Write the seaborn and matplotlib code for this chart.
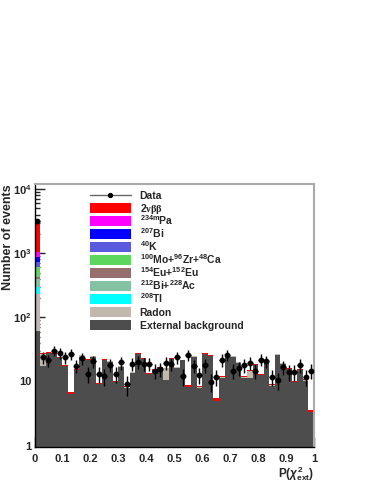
import numpy as np
import pandas as pd
import matplotlib
matplotlib.use("Agg")
import matplotlib.pyplot as plt
from matplotlib.lines import Line2D
from matplotlib.patches import Rectangle
from matplotlib.ticker import FixedLocator, FixedFormatter, LogLocator, NullFormatter, MultipleLocator
import seaborn as sns

# 50 bins of P(chi2_ext) between 0 and 1
n_bins = 50
x_range = (0, 1)

data_counts = [3230, 23.7, 21.5, 30, 27.6, 23.7, 26.7, 17.6, 22.9, 13.1,
               20.6, 13.1, 12, 18.2, 13.1, 19.8, 9, 18.7, 20.3, 18.7,
               18.7, 14.7, 15.6, 19.6, 19, 23.7, 12, 25.7, 17.6, 12.6,
               18, 9.9, 11.8, 21.7, 25.7, 14.7, 16.3, 17.8, 19.6, 14.7,
               21.8, 20.5, 11.8, 10.5, 16.6, 14, 14, 18, 11.9, 14.7]

ext_bkg = [61, 17.6, 27.5, 26.8, 23.0, 17.4, 6.3, 15.0, 24.0, 21.6,
           24.3, 9.0, 21.3, 20.3, 9.8, 17.0, 8.0, 13.6, 26.8, 22.2,
           12.9, 15.0, 16.0, 10.5, 22.3, 16.4, 21.3, 8.2, 24.3, 8.0,
           26.8, 25.0, 4.9, 11.5, 24.5, 24.3, 19.7, 11.5, 11.3, 18.0,
           12.5, 20.3, 8.6, 26.3, 19.0, 15.6, 9.8, 15.0, 10.3, 3.3]
radon = [174, 9.0, 0.3, 0.3, 0.2, 0.2, 0.1, 0.2, 1.5, 0.2,
         0.2, 0.1, 0.2, 0.2, 0.1, 0.2, 0.1, 0.2, 0.3, 0.2,
         0.1, 0.2, 0.2, 5.5, 0.2, 0.2, 0.2, 0.1, 0.2, 0.1,
         0.3, 0.2, 0.1, 0.1, 0.2, 0.2, 0.2, 0.1, 3.5, 0.2,
         0.1, 0.2, 0.1, 0.2, 0.2, 0.1, 0.1, 0.2, 0.1, 0.05]
tl208 = [65] + [0.0] * 49
bi212_ac228 = [100] + [0.0] * 49
eu154_eu152 = [30] + [0.0] * 49
mo100_zr96_ca48 = [178] + [0.0] * 49
k40 = [130] + [0.0] * 49
bi207 = [150] + [0.0] * 49
pa234m = [160] + [0.0] * 49
bb2nu = [2250, 0.9, 0.5, 0.5, 0.5, 0.4, 0.4, 0.4, 0.5, 0.5,
         0.5, 0.5, 0.5, 0.5, 0.4, 0.4, 0.4, 0.4, 0.5, 0.5,
         0.5, 0.4, 0.4, 0.4, 0.5, 0.4, 0.4, 0.4, 0.5, 0.4,
         0.5, 0.5, 0.5, 0.4, 0.5, 0.4, 0.4, 0.4, 0.4, 0.4,
         0.5, 0.5, 0.4, 0.5, 0.4, 0.4, 0.4, 0.4, 0.5, 0.3]

components = ["2nubb", "Pa234m", "Bi207", "K40", "MoZrCa", "Eu", "BiAc", "Tl208", "Radon", "Ext"]
comp_values = [bb2nu, pa234m, bi207, k40, mo100_zr96_ca48, eu154_eu152, bi212_ac228, tl208, radon, ext_bkg]
comp_labels = [r"2$\mathsf{\nu\beta\beta}$", r"$^{234m}$Pa", r"$^{207}$Bi", r"$^{40}$K",
               r"$^{100}$Mo+$^{96}$Zr+$^{48}$Ca", r"$^{154}$Eu+$^{152}$Eu",
               r"$^{212}$Bi+$^{228}$Ac", r"$^{208}$Tl", "Radon", "External background"]
comp_colors = ["#ff0000", "#ff00ff", "#0000ff", "#5a5ade", "#5cd65c",
               "#966e6e", "#85c2a3", "#00ffff", "#c2b8ad", "#4d4d4d"]

sns.set_style("ticks")
plt.rcParams["font.family"] = ["Liberation Sans", "DejaVu Sans"]
plt.rcParams["font.weight"] = "bold"
plt.rcParams["mathtext.fontset"] = "custom"
plt.rcParams["mathtext.rm"] = "Liberation Sans:bold"
plt.rcParams["mathtext.it"] = "Liberation Sans:bold:italic"
plt.rcParams["mathtext.bf"] = "Liberation Sans:bold"
plt.rcParams["mathtext.sf"] = "Liberation Serif"
plt.rcParams["mathtext.default"] = "rm"

bin_edges = np.linspace(x_range[0], x_range[1], n_bins + 1)
centers = (bin_edges[:-1] + bin_edges[1:]) / 2
rows = []
for name, vals in zip(components, comp_values):
    for c, v in zip(centers, vals):
        rows.append({"x": c, "w": v, "comp": name})
df = pd.DataFrame(rows)

W, H = 376, 487
fig = plt.figure(figsize=(W / 100, H / 100), dpi=100)
ax = fig.add_axes([34.5 / W, 1 - 447 / H, 279.5 / W, 263 / H])

sns.histplot(data=df, x="x", weights="w", hue="comp", hue_order=components,
             multiple="stack", bins=n_bins, binrange=x_range,
             palette=dict(zip(components, comp_colors)),
             element="bars", linewidth=0, alpha=1, legend=False, ax=ax)
ax.set_yscale("log")

data_counts = np.array(data_counts)
ax.errorbar(centers, data_counts, yerr=np.sqrt(data_counts), xerr=0.01,
            fmt="o", ms=3.2, color="black", elinewidth=1, capsize=0, zorder=5)

ax.set_xlim(0, 1)
ax.set_ylim(0.95, 12000)

ax.yaxis.set_major_locator(FixedLocator([1, 10, 100, 1000, 10000]))
ax.yaxis.set_major_formatter(FixedFormatter(["1", "10", r"10$^{2}$", r"10$^{3}$", r"10$^{4}$"]))
ax.yaxis.set_minor_locator(LogLocator(base=10, subs=np.arange(2, 10)))
ax.yaxis.set_minor_formatter(NullFormatter())
ax.xaxis.set_major_locator(FixedLocator(np.arange(0, 1.01, 0.1)))
ax.xaxis.set_major_formatter(FixedFormatter(["0", "0.1", "0.2", "0.3", "0.4", "0.5",
                                             "0.6", "0.7", "0.8", "0.9", "1"]))
ax.xaxis.set_minor_locator(MultipleLocator(0.02))
ax.tick_params(which="both", direction="in", top=False, right=False, labelsize=8)
ax.tick_params(axis="x", pad=5)
ax.tick_params(axis="y", pad=2)
ax.tick_params(which="major", length=7, width=1)
ax.tick_params(which="minor", length=3.5, width=1)

for s in ["top", "right"]:
    ax.spines[s].set_color("#aaaaaa")
    ax.spines[s].set_linewidth(1.5)
for s in ["left", "bottom"]:
    ax.spines[s].set_color("black")
    ax.spines[s].set_linewidth(1)

ax.set_ylabel("Number of events", fontsize=9, fontweight="bold", loc="top")
ax.yaxis.set_label_coords(-0.073, 1.0)
ax.set_xlabel(r"P($\mathit{\chi}^{2}_{ext}$)", fontsize=8.5, fontweight="bold", loc="right")
ax.xaxis.set_label_coords(1.0, -0.065)

# legend drawn in figure pixels, ROOT TLegend style
box_x0, box_w, box_h = 89.5, 41, 9.4
text_x = 139.5
data_y = 195
fig.add_artist(Line2D([box_x0 / W, (box_x0 + box_w) / W], [1 - data_y / H] * 2,
                      color="#666666", lw=1, transform=fig.transFigure))
fig.add_artist(Line2D([(box_x0 + box_w / 2) / W], [1 - data_y / H], marker="o", ms=2.8,
                      color="black", lw=0, transform=fig.transFigure))
fig.text(text_x / W, 1 - (data_y + 3.7) / H, "Data", fontsize=7.5, fontweight="bold",
         va="baseline", ha="left")
for k, (lab, col) in enumerate(zip(comp_labels, comp_colors)):
    yc = 208 + 13 * k
    fig.add_artist(Rectangle((box_x0 / W, 1 - (yc + box_h / 2) / H), box_w / W, box_h / H,
                             facecolor=col, edgecolor="none", transform=fig.transFigure))
    fig.text(text_x / W, 1 - (yc + 3.7) / H, lab, fontsize=7.5, fontweight="bold",
             va="baseline", ha="left")

fig.savefig("out.png", dpi=100, facecolor="white")
